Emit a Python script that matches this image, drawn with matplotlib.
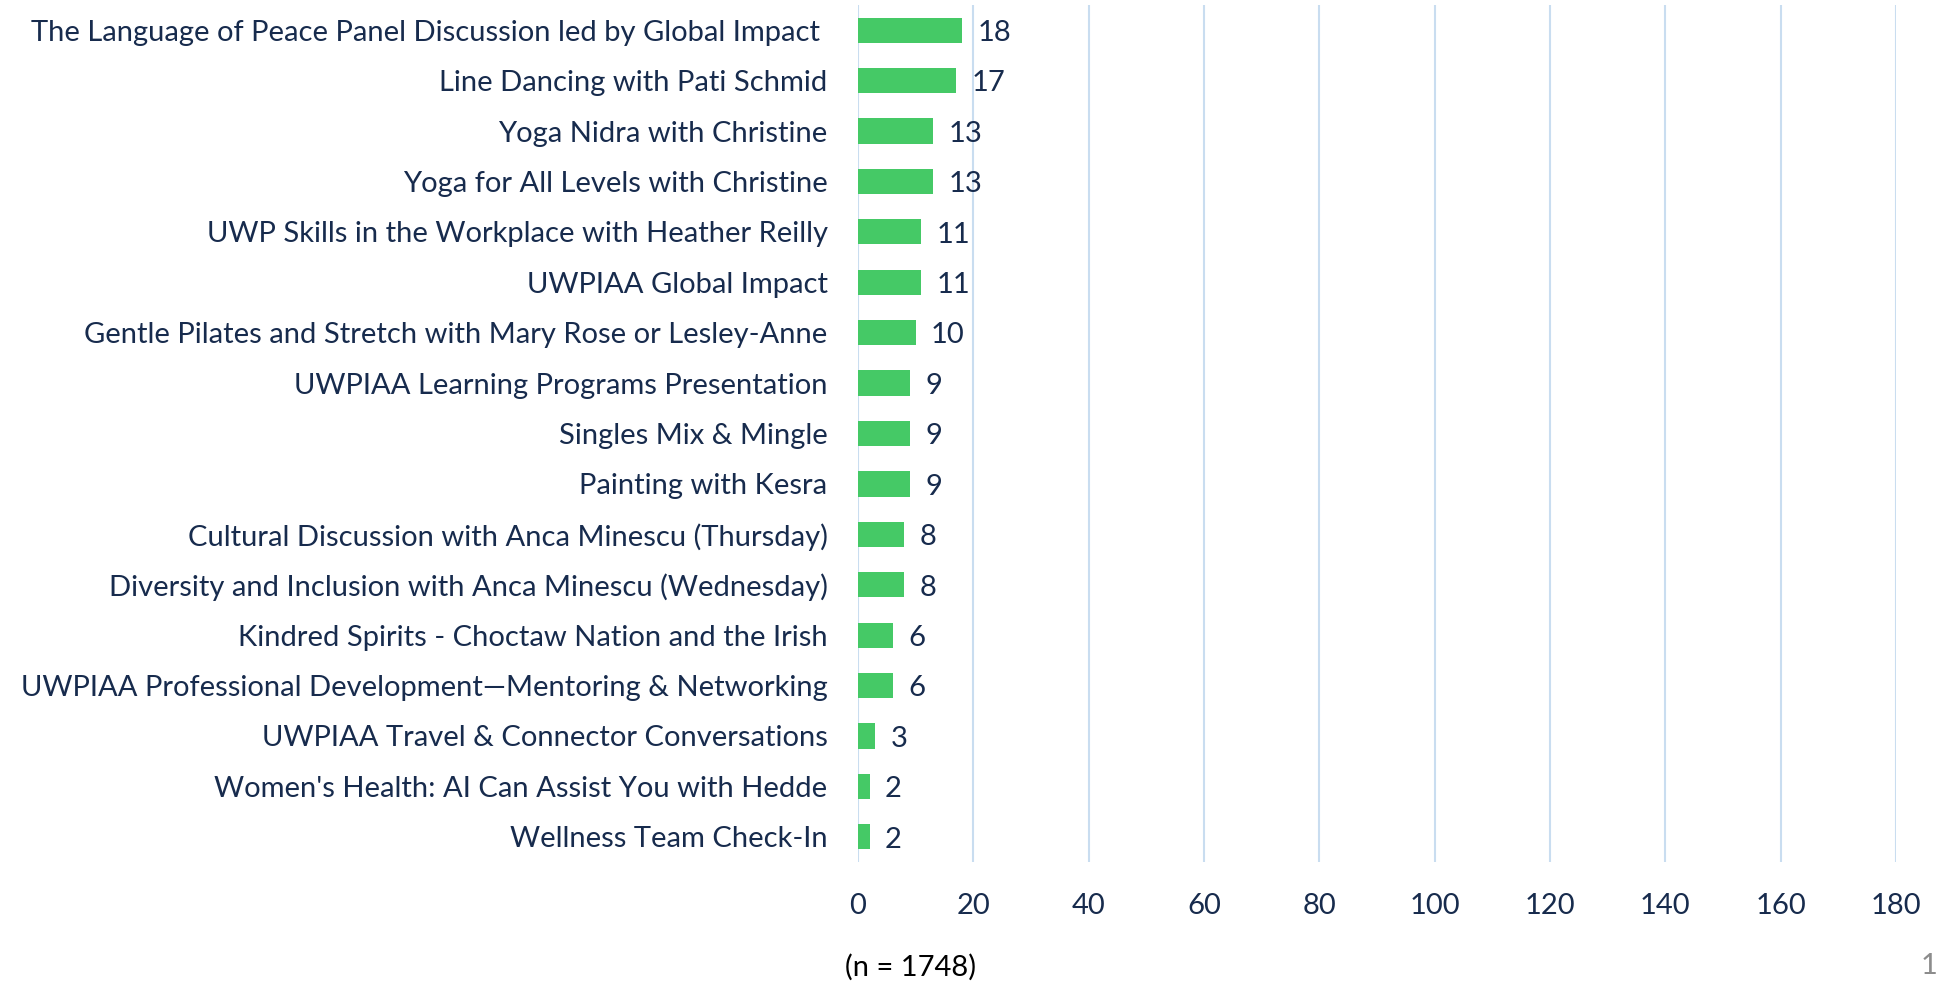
import matplotlib
matplotlib.use("Agg")
import matplotlib.pyplot as plt

categories = [
    "The Language of Peace Panel Discussion led by Global Impact ",
    "Line Dancing with Pati Schmid",
    "Yoga Nidra with Christine",
    "Yoga for All Levels with Christine",
    "UWP Skills in the Workplace with Heather Reilly",
    "UWPIAA Global Impact",
    "Gentle Pilates and Stretch with Mary Rose or Lesley-Anne",
    "UWPIAA Learning Programs Presentation",
    "Singles Mix & Mingle",
    "Painting with Kesra",
    "Cultural Discussion with Anca Minescu (Thursday)",
    "Diversity and Inclusion with Anca Minescu (Wednesday)",
    "Kindred Spirits - Choctaw Nation and the Irish",
    "UWPIAA Professional Development\u2014Mentoring & Networking",
    "UWPIAA Travel & Connector Conversations",
    "Women's Health: AI Can Assist You with Hedde",
    "Wellness Team Check-In",
]
values = [18, 17, 13, 13, 11, 11, 10, 9, 9, 9, 8, 8, 6, 6, 3, 2, 2]
xticks = [0, 20, 40, 60, 80, 100, 120, 140, 160, 180]
note = "(n = 1748)"
page = "1"

plt.rcParams['font.family'] = ['Lato', 'DejaVu Sans']
text_color = "#172B4D"
bar_color = "#45C966"
grid_color = "#C9DDF0"
fs = 21

fig = plt.figure(figsize=(19.4, 9.84), dpi=100)
ax = fig.add_axes([0.4423, 0.124, 0.535, 0.8709])

ypos = list(range(len(categories)))
ax.barh(ypos, values, height=0.5, color=bar_color, zorder=3)
ax.set_ylim(len(categories) - 0.5, -0.5)
ax.set_xlim(0, 180)
ax.set_xticks(xticks)
ax.set_yticks(ypos)
ax.set_yticklabels(categories, fontsize=fs, color=text_color)
ax.set_xticklabels([str(t) for t in xticks], fontsize=fs, color=text_color)
ax.tick_params(axis='y', length=0, pad=22)
ax.tick_params(axis='x', length=0, pad=22)
for s in ax.spines.values():
    s.set_visible(False)
ax.grid(axis='x', color=grid_color, linewidth=1.5, zorder=0)
ax.set_axisbelow(True)

for y, v in zip(ypos, values):
    ax.annotate(str(v), xy=(v, y), xytext=(11, -2), textcoords='offset points',
                va='center', ha='left', fontsize=fs, color=text_color)

fig.text(845 / 1940, 1 - 967 / 984, note, fontsize=fs, color="black",
         ha='left', va='center')
fig.text(1938 / 1940, 1 - 966 / 984, page, fontsize=fs, color="#8C8C8C",
         ha='right', va='center')

fig.savefig("out.png", dpi=100)
